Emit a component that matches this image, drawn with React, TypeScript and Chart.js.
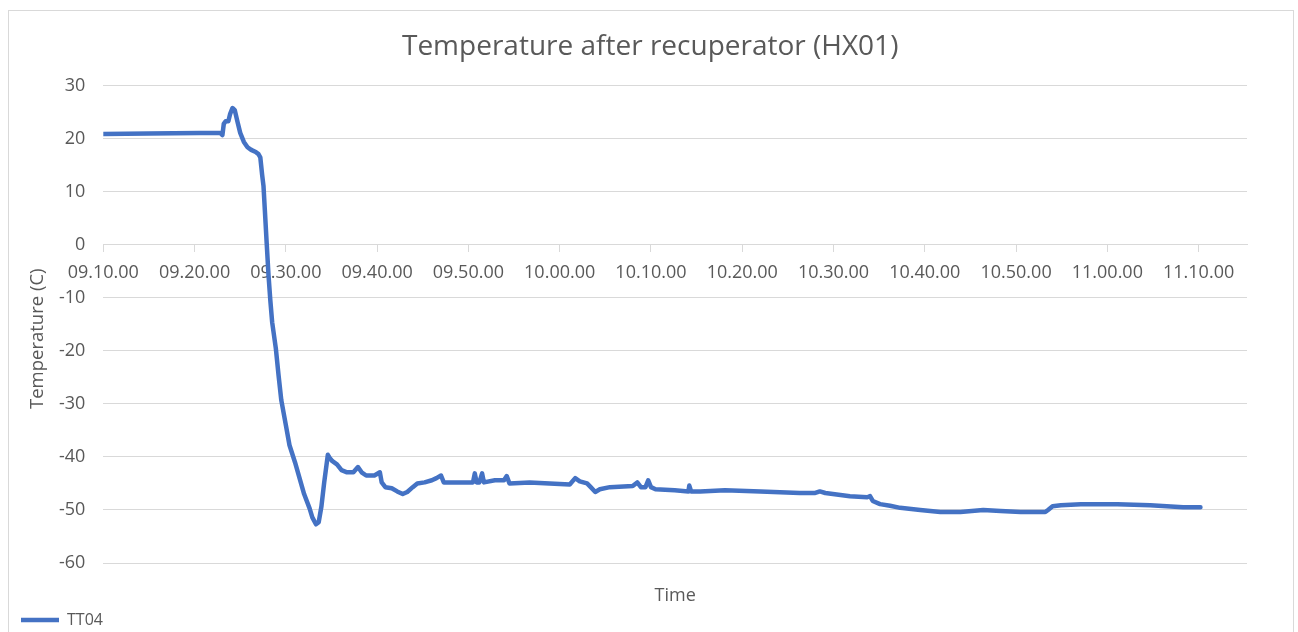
import React, { useEffect, useRef } from "react";
import { Chart, registerables } from "chart.js";

Chart.register(...registerables);

const CHART_TITLE = "Temperature after recuperator (HX01)";
const SERIES_NAME = "TT04";
const X_TITLE = "Time";
const Y_TITLE = "Temperature (C)";
const START_MINUTE_OF_DAY = 9 * 60 + 10; // 09.10.00

// minutes after 09.10.00
const minutes = [
  0, 5, 10.5, 12.8, 13.05, 13.2, 13.4, 13.7, 13.9, 14.15, 14.4, 14.7, 15.0, 15.4, 15.8, 16.2,
  16.7, 17.0, 17.2, 17.4, 17.55, 17.7, 17.9, 18.1, 18.3, 18.5, 18.9, 19.2, 19.5, 20.0, 20.4,
  21.0, 21.5, 22.0, 22.6, 22.9, 23.3, 23.6, 23.9, 24.2, 24.6, 24.8, 25.1, 25.6, 26.1, 26.7,
  27.4, 27.9, 28.3, 28.8, 29.7, 30.3, 30.5, 30.9, 31.6, 32.2, 32.8, 33.3, 33.9, 34.4, 35.2,
  36.0, 36.5, 37.0, 37.3, 39.0, 40.5, 40.7, 40.9, 41.2, 41.5, 41.7, 42.9, 43.9, 44.2, 44.5,
  46.7, 48.9, 51.1, 51.7, 52.2, 53.0, 53.4, 53.9, 54.4, 55.5, 58.0, 58.5, 58.9, 59.4, 59.7,
  60.0, 60.5, 62.6, 64.1, 64.2, 64.4, 65.4, 68.1, 72.0, 76.3, 78.0, 78.5, 79.1, 81.8, 83.7,
  84.0, 84.3, 85.1, 86.2, 87.3, 89.5, 91.7, 93.9, 96.4, 98.3, 100.5, 103.2, 103.5, 104.0,
  104.9, 107.1, 111.1, 114.7, 118.3, 120.2,
];

// TT04 temperature, °C
const tt04 = [
  20.9, 21.0, 21.1, 21.1, 20.7, 22.8, 23.3, 23.3, 24.7, 25.8, 25.4, 23.2, 21.1, 19.4, 18.4, 17.9,
  17.5, 17.1, 16.5, 13.2, 11.1, 6.5, 0.3, -5.7, -10.5, -14.6, -19.5, -24.6, -29.3, -34.0, -37.8,
  -41.0, -44.0, -47.0, -49.7, -51.4, -52.7, -52.3, -49.3, -44.8, -39.6, -40.2, -40.8, -41.4, -42.5, -42.9,
  -42.9, -41.9, -42.9, -43.5, -43.5, -42.9, -44.8, -45.7, -45.9, -46.5, -47.0, -46.6, -45.7, -45.0, -44.8,
  -44.4, -44.0, -43.5, -44.8, -44.8, -44.8, -43.1, -44.8, -44.8, -43.1, -44.8, -44.4, -44.4, -43.6, -45.0,
  -44.8, -45.0, -45.2, -44.0, -44.6, -45.0, -45.7, -46.6, -46.1, -45.7, -45.5, -44.8, -45.7, -45.7, -44.4,
  -45.7, -46.1, -46.3, -46.5, -45.4, -46.5, -46.5, -46.3, -46.5, -46.8, -46.8, -46.5, -46.8, -47.4, -47.6,
  -47.4, -48.3, -48.9, -49.2, -49.6, -50.0, -50.4, -50.4, -50.0, -50.2, -50.4, -50.4, -50.0, -49.3,
  -49.1, -48.9, -48.9, -49.1, -49.5, -49.5,
];

const X_MIN = 0;
const X_MAX = 125.3;
const X_STEP = 10;
const Y_MIN = -60;
const Y_MAX = 30;
const Y_STEP = 10;

const FONT = "'Open Sans', 'Noto Sans', sans-serif";
const TEXT_COLOR = "#595959";
const GRID_COLOR = "#d9d9d9";
const LINE_COLOR = "#4472C4";

const pad2 = (n: number) => String(n).padStart(2, "0");
const formatTime = (m: number) => {
  const total = START_MINUTE_OF_DAY + Math.round(m);
  return `${pad2(Math.floor(total / 60))}.${pad2(total % 60)}.00`;
};

export default function App() {
  const canvasRef = useRef<HTMLCanvasElement | null>(null);

  useEffect(() => {
    if (!canvasRef.current) return;
    const points = minutes.map((m, i) => ({ x: m, y: tt04[i] }));
    const chart = new Chart(canvasRef.current, {
      type: "line",
      data: {
        datasets: [
          {
            label: SERIES_NAME,
            data: points,
            borderColor: LINE_COLOR,
            backgroundColor: LINE_COLOR,
            borderWidth: 4.5,
            pointRadius: 0,
            pointHoverRadius: 0,
            tension: 0,
            fill: false,
            borderCapStyle: "round",
            borderJoinStyle: "round",
            xAxisID: "x",
            yAxisID: "y",
          },
        ],
      },
      options: {
        responsive: false,
        animation: false,
        devicePixelRatio: 1,
        layout: { padding: { left: 8, right: 46, top: 0, bottom: 13 } },
        plugins: {
          title: {
            display: true,
            text: "     " + CHART_TITLE,
            color: TEXT_COLOR,
            font: { family: FONT, size: 28, weight: "normal" },
            padding: { top: 19.2, bottom: 21.9 },
          },
          legend: {
            display: true,
            position: "bottom",
            align: "start",
            labels: {
              usePointStyle: true,
              pointStyle: "line",
              pointStyleWidth: 38,
              color: TEXT_COLOR,
              font: { family: FONT, size: 16 },
              padding: 4,
            },
          },
          tooltip: { enabled: false },
        },
        scales: {
          x: {
            type: "linear",
            position: { y: 0 },
            min: X_MIN,
            max: X_MAX,
            ticks: {
              stepSize: X_STEP,
              maxTicksLimit: 20,
              includeBounds: false,
              autoSkip: false,
              maxRotation: 0,
              minRotation: 0,
              padding: 10,
              color: TEXT_COLOR,
              font: { family: FONT, size: 18 },
              callback: (v: any) => formatTime(Number(v)),
            },
            grid: {
              drawOnChartArea: false,
              drawTicks: true,
              tickLength: 7,
              color: GRID_COLOR,
              lineWidth: 1,
            },
            border: { display: true, color: GRID_COLOR, width: 1 },
          },
          x2: {
            type: "linear",
            axis: "x",
            position: "bottom",
            ticks: { display: false },
            grid: { display: false, drawTicks: false },
            border: { display: false },
            title: {
              display: true,
              text: X_TITLE,
              color: TEXT_COLOR,
              font: { family: FONT, size: 18 },
              padding: { top: 0, bottom: 1 },
            },
            afterFit: (s: any) => {
              s.height = 45;
            },
          },
          y: {
            type: "linear",
            position: "left",
            min: Y_MIN,
            max: Y_MAX,
            ticks: {
              stepSize: Y_STEP,
              padding: 18,
              color: TEXT_COLOR,
              font: { family: FONT, size: 18 },
            },
            grid: { color: GRID_COLOR, lineWidth: 1, drawTicks: false },
            border: { display: false },
            title: {
              display: true,
              text: Y_TITLE + "      ",
              color: TEXT_COLOR,
              font: { family: FONT, size: 18.5 },
              padding: { top: 9.9, bottom: 0 },
            },
            afterFit: (s: any) => {
              s.width = 86.3;
            },
          },
        },
      } as any,
    });
    return () => chart.destroy();
  }, []);

  return (
    <div
      style={{
        position: "absolute",
        left: 0,
        top: 0,
        width: 1298,
        height: 632,
        overflow: "hidden",
        background: "#ffffff",
      }}
    >
      <div
        style={{
          position: "absolute",
          left: 8,
          top: 10,
          width: 1286,
          height: 660,
          border: `1px solid ${GRID_COLOR}`,
          boxSizing: "border-box",
          background: "#ffffff",
        }}
      >
        <canvas ref={canvasRef} width={1284} height={640} style={{ display: "block" }} />
      </div>
    </div>
  );
}
